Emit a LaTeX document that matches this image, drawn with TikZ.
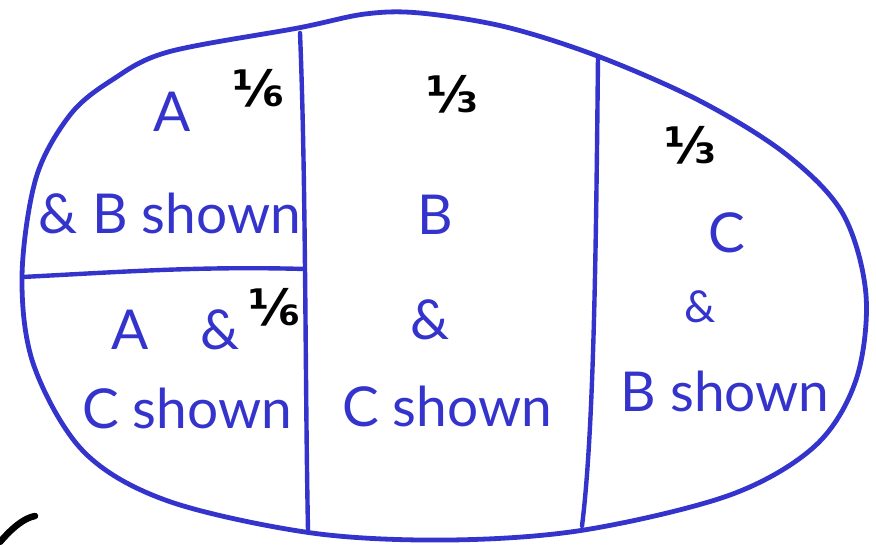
\documentclass[tikz,border=0pt]{standalone}
\usepackage{fontspec}
\setmainfont{Lato}
\newfontfamily\fracfont{DejaVu Sans}
\usepackage{tikz}
\definecolor{penblue}{RGB}{52, 52, 204}
\definecolor{peninkblack}{RGB}{0, 0, 0}

\begin{document}
\begin{tikzpicture}[x=1pt, y=-1pt,
    outline/.style={draw=penblue, line width=4.8pt, line join=round, line cap=round},
    divider/.style={draw=penblue, line width=4.4pt, line cap=round},
    word/.style={text=penblue, font=\fontsize{55}{60}\selectfont, inner sep=0pt},
    smallword/.style={text=penblue, font=\fontsize{44}{50}\selectfont, inner sep=0pt},
    fraction/.style={text=peninkblack, font=\fracfont\bfseries\fontsize{50}{56}\selectfont, inner sep=0pt}]
    \useasboundingbox (0, 0) rectangle (876, 544);

    % Egg outline
    \draw[outline] plot[smooth cycle, tension=0.55] coordinates {
        (22, 277) (36, 178) (70, 115) (112, 80) (168, 52) (298, 28)
        (365, 14) (420, 13) (506, 27) (600, 57) (702, 102) (787, 155)
        (843, 214) (866, 295) (856, 380) (815, 446) (730, 495)
        (584, 530) (449, 540) (312, 533) (168, 501) (84, 452) (34, 366)};

    % Divider end points
    \coordinate (L0) at (300, 33);
    \coordinate (L1) at (308, 530);
    \coordinate (R0) at (598, 57);
    \coordinate (R1) at (582, 526);
    \coordinate (H0) at (22, 277);
    \coordinate (H1) at (305, 269);

    % Dividers
    \draw[divider] (L0) .. controls (306, 180) and (305, 380) .. (L1);
    \draw[divider] (R0) .. controls (596, 250) and (594, 430) .. (R1);
    \draw[divider] (H0) .. controls (120, 272) and (200, 266) .. (H1);

    % Stray pen stroke
    \draw[line width=6.5pt, line cap=round, color=peninkblack] (0, 542) .. controls (12, 528) and (24, 518) .. (35, 516);

    % Left column, upper cell
    \node[word] (aTop) at (172, 112) {A};
    \node[fraction] (sixthTop) at (258, 88) {⅙};
    \node[word] (bShownTop) at (170, 213) {\& B shown};

    % Left column, lower cell
    \node[word] (aLow) at (130, 330) {A};
    \node[word] (ampLow) at (220, 330) {\&};
    \node[fraction] (sixthLow) at (274, 307) {⅙};
    \node[word] (cShownLow) at (187, 408) {C shown};

    % Middle column
    \node[fraction] (thirdMid) at (452, 94) {⅓};
    \node[word] (bMid) at (435, 215) {B};
    \node[word] (ampMid) at (430, 320) {\&};
    \node[word] (cShownMid) at (447, 406) {C shown};

    % Right column
    \node[fraction] (thirdRight) at (690, 145) {⅓};
    \node[word] (cRight) at (727, 233) {C};
    \node[smallword] (ampRight) at (700, 307) {\&};
    \node[word] (bShownRight) at (725, 391) {B shown};
\end{tikzpicture}
\end{document}
